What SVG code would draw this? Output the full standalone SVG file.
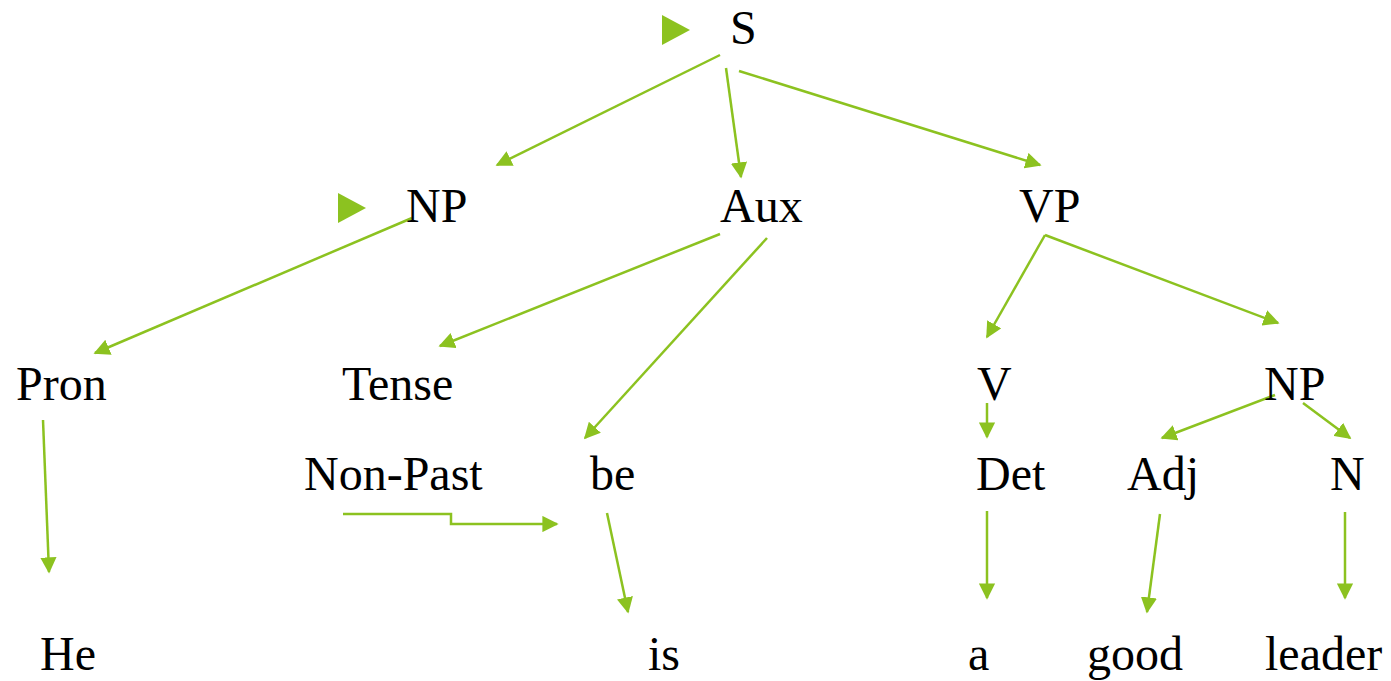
<svg xmlns="http://www.w3.org/2000/svg" width="1391" height="681" viewBox="0 0 1391 681">
<defs>
<style>
.t{font-family:"Liberation Serif","Times New Roman",Times,serif;font-size:48px;fill:#000}
.c{stroke:#8CC220;stroke-width:2.5;fill:none;marker-end:url(#ah)}
.b{fill:#8CC220}
</style>
<marker id="ah" viewBox="0 0 10 10" refX="9" refY="5" markerWidth="6.5" markerHeight="6.5" markerUnits="strokeWidth" orient="auto">
<path d="M0,0L10,5L0,10z" fill="#8CC220"/>
</marker>
</defs>
<rect width="1391" height="681" fill="#fff"/>
<g id="connectors">
<line class="c" x1="720" y1="55" x2="497" y2="165"/>
<line class="c" x1="726" y1="68" x2="741" y2="177"/>
<line class="c" x1="739" y1="71" x2="1040" y2="165"/>
<line class="c" x1="412" y1="218" x2="95" y2="353"/>
<line class="c" x1="720" y1="234" x2="440" y2="346"/>
<line class="c" x1="767" y1="238" x2="585" y2="438"/>
<line class="c" x1="1045" y1="235" x2="987" y2="337"/>
<line class="c" x1="1045" y1="235" x2="1278" y2="323"/>
<line class="c" x1="43" y1="420" x2="49" y2="572"/>
<line class="c" x1="987" y1="403" x2="987" y2="437"/>
<line class="c" x1="1275" y1="395" x2="1162" y2="438"/>
<line class="c" x1="1303" y1="403" x2="1350" y2="438"/>
<polyline class="c" points="343,514 451,514 451,524 557,524"/>
<line class="c" x1="607" y1="513" x2="628" y2="612"/>
<line class="c" x1="987" y1="511" x2="987" y2="598"/>
<line class="c" x1="1160" y1="514" x2="1147" y2="612"/>
<line class="c" x1="1345" y1="512" x2="1345" y2="598"/>
</g>
<g id="node-S"><path class="b" d="M662,15L690,30L662,45z"/><text class="t" x="730" y="44">S</text></g>
<g id="node-NP1"><path class="b" d="M338,193L366,208L338,223z"/><text class="t" x="406" y="222">NP</text></g>
<g id="node-Aux"><text class="t" x="720" y="222">Aux</text></g>
<g id="node-VP"><text class="t" x="1019" y="222">VP</text></g>
<g id="node-Pron"><text class="t" x="16" y="400">Pron</text></g>
<g id="node-Tense"><text class="t" x="342" y="400">Tense</text></g>
<g id="node-V"><text class="t" x="977" y="400">V</text></g>
<g id="node-NP2"><text class="t" x="1264" y="400">NP</text></g>
<g id="node-NonPast"><text class="t" x="304" y="490">Non-Past</text></g>
<g id="node-be"><text class="t" x="590" y="490">be</text></g>
<g id="node-Det"><text class="t" x="976" y="490">Det</text></g>
<g id="node-Adj"><text class="t" x="1127" y="490">Adj</text></g>
<g id="node-N"><text class="t" x="1330" y="490">N</text></g>
<g id="node-He"><text class="t" x="40" y="670">He</text></g>
<g id="node-is"><text class="t" x="648" y="670">is</text></g>
<g id="node-a"><text class="t" x="968" y="670">a</text></g>
<g id="node-good"><text class="t" x="1087" y="670">good</text></g>
<g id="node-leader"><text class="t" x="1265" y="670">leader</text></g>
</svg>
